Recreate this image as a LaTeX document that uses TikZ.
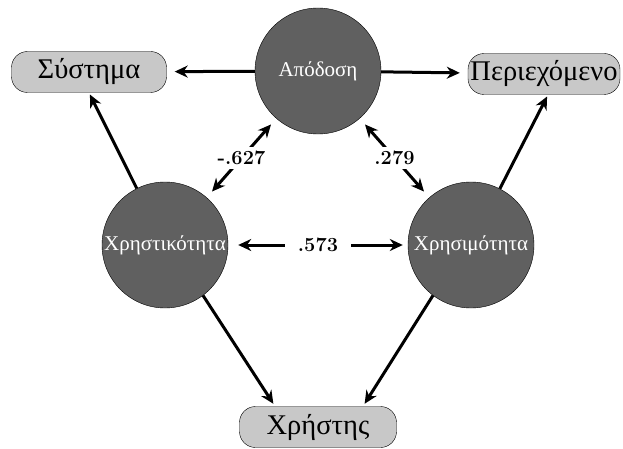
\documentclass[tikz,border=0pt]{standalone}
\usepackage{fontspec}
\newfontfamily\gr{Liberation Serif}
\usetikzlibrary{arrows.meta}
\definecolor{circgray}{RGB}{96,96,96}
\definecolor{boxgray}{RGB}{200,200,200}
\tikzset{
  factor/.style={circle,draw=black,fill=circgray,minimum size=126pt,inner sep=0pt,
    text=white,font=\gr\fontsize{21}{24}\selectfont},
  outcome/.style={rectangle,rounded corners=16pt,draw=black,fill=boxgray,
    minimum height=41pt,inner sep=1pt,font=\gr\fontsize{28.5}{31}\selectfont},
  arr/.style={line width=3pt,-{Stealth[length=13pt,width=12pt]}},
  dbl/.style={line width=3pt,{Stealth[length=13pt,width=12pt]}-{Stealth[length=13pt,width=12pt]},
    shorten <=8pt,shorten >=8pt},
  coef/.style={fill=white,inner sep=4pt,font=\bfseries\fontsize{20}{23}\selectfont}
}
\begin{document}
\begin{tikzpicture}[x=1pt,y=1pt]
        \useasboundingbox (0,0) rectangle (623,448);
        % factors
        \node[factor] (ap) at (318,377) {Απόδοση};
        \node[factor] (xk) at (165,203) {Χρηστικότητα};
        \node[factor] (xm) at (471,203) {Χρησιμότητα};
        % outcomes
        \node[outcome,minimum width=155pt] (sys) at (89,376) {Σύστημα};
        \node[outcome,minimum width=152pt] (per) at (544,374) {Περιεχόμενο};
        \node[outcome,minimum width=157pt] (xs) at (318,21) {Χρήστης};

        % paths
        \draw[arr,shorten >=8pt] (ap) -- (sys);
        \draw[arr,shorten >=8pt] (ap) -- (per);
        \draw[arr,shorten >=2pt] (xk) -- (sys.south);
        \draw[arr,shorten >=2pt] (xm) -- ([xshift=4pt]per.south);
        \draw[arr,shorten >=3pt] (xk.-53) -- ([xshift=-43pt]xs.north);
        \draw[arr,shorten >=3pt] (xm.-127) -- ([xshift=45pt]xs.north);

        % correlations
        \draw[dbl] (ap) -- node[coef] {-.627} (xk);
        \draw[dbl] (ap) -- node[coef] {.279} (xm);
        \draw[dbl,shorten <=10pt,shorten >=5pt] (xk) -- node[coef,inner xsep=13pt] {.573} (xm);
\end{tikzpicture}
\end{document}
